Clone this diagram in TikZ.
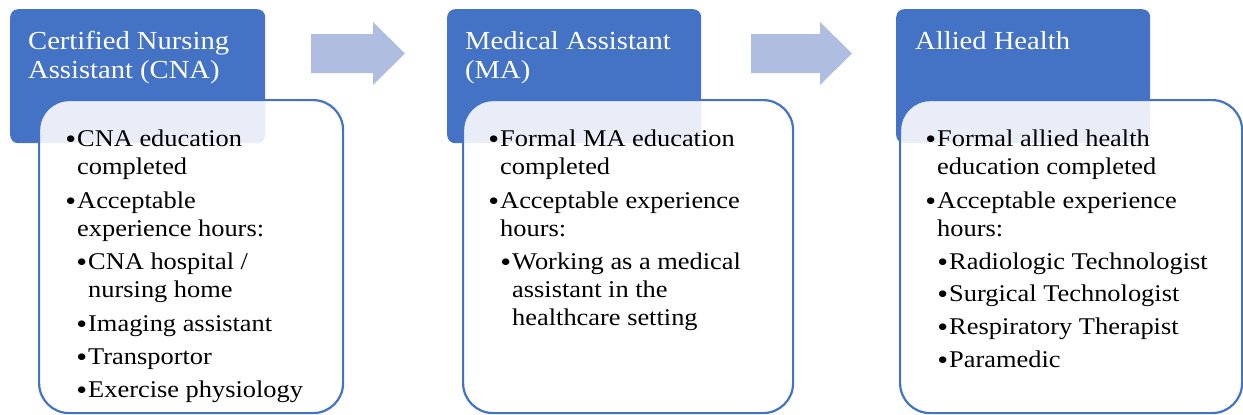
\documentclass[tikz,border=0pt]{standalone}
\usepackage{fontspec}
\setmainfont[FakeStretch=1.1]{Liberation Serif}
\definecolor{blu}{HTML}{4472C4}
\definecolor{arr}{HTML}{AFBDE0}
\tikzset{
  hdrbox/.style={fill=blu, draw=none, rounded corners=8pt, inner sep=0pt, anchor=north west},
  bodybox/.style={draw=blu, line width=2.2pt, fill=white, fill opacity=0.88, rounded corners=30pt, inner sep=0pt, anchor=north west},
  hdrtext/.style={anchor=base west, inner sep=0pt, text=white, font=\fontsize{26}{29}\selectfont},
  item/.style={anchor=base west, inner sep=0pt, font=\fontsize{24}{28}\selectfont},
  blockarrow/.style={fill=arr, draw=none}
}
\newcommand{\itm}[1]{\parbox[t]{330pt}{\raggedright\noindent\llap{\raisebox{-2.5pt}{\fontsize{28}{28}\selectfont\textbullet}\hspace{1pt}}#1}}
\newcommand{\hdr}[1]{\parbox[t]{330pt}{\raggedright\noindent #1}}
\begin{document}
\begin{tikzpicture}[x=1pt,y=-1pt]
\useasboundingbox (0,0) rectangle (1243,415);
% arrows
\fill[blockarrow] (311,34) -- (373,34) -- (373,22) -- (405,53.5) -- (373,85) -- (373,73) -- (311,73) -- cycle;
\fill[blockarrow] (751,34) -- (820,34) -- (820,22) -- (852,53.5) -- (820,85) -- (820,73) -- (751,73) -- cycle;
% header boxes
\node[hdrbox, minimum width=255pt, minimum height=134pt] (h1) at (10,9) {};
\node[hdrbox, minimum width=254pt, minimum height=134pt] (h2) at (447,9) {};
\node[hdrbox, minimum width=254pt, minimum height=134pt] (h3) at (896,9) {};
% body boxes
\node[bodybox, minimum width=304pt, minimum height=313pt] (b1) at (38,99) {};
\node[bodybox, minimum width=330pt, minimum height=313pt] (b2) at (462,99) {};
\node[bodybox, minimum width=342pt, minimum height=313pt] (b3) at (899,99) {};
% header texts
\node[hdrtext] (t1) at (28,49) {\hdr{Certified Nursing\\Assistant (CNA)}};
\node[hdrtext] (t2) at (465,49) {\hdr{Medical Assistant\\(MA)}};
\node[hdrtext] (t3) at (915,49) {\hdr{Allied Health}};
% box 1 items
\node[item] (a1) at (77,146) {\itm{CNA education\\completed}};
\node[item] (a2) at (77,208) {\itm{Acceptable\\experience hours:}};
\node[item] (a3) at (88,269) {\itm{CNA hospital /\\nursing home}};
\node[item] (a4) at (88,331) {\itm{Imaging assistant}};
\node[item] (a5) at (88,364) {\itm{Transportor}};
\node[item] (a6) at (88,397) {\itm{Exercise physiology}};
% box 2 items
\node[item] (m1) at (500,146) {\itm{Formal MA education\\completed}};
\node[item] (m2) at (500,208) {\itm{Acceptable experience\\hours:}};
\node[item] (m3) at (512,269) {\itm{Working as a medical\\assistant in the\\healthcare setting}};
% box 3 items
\node[item] (r1) at (937,146) {\itm{Formal allied health\\education completed}};
\node[item] (r2) at (937,208) {\itm{Acceptable experience\\hours:}};
\node[item] (r3) at (949,269) {\itm{Radiologic Technologist}};
\node[item] (r4) at (949,301) {\itm{Surgical Technologist}};
\node[item] (r5) at (949,334) {\itm{Respiratory Therapist}};
\node[item] (r6) at (949,367) {\itm{Paramedic}};
\end{tikzpicture}
\end{document}
